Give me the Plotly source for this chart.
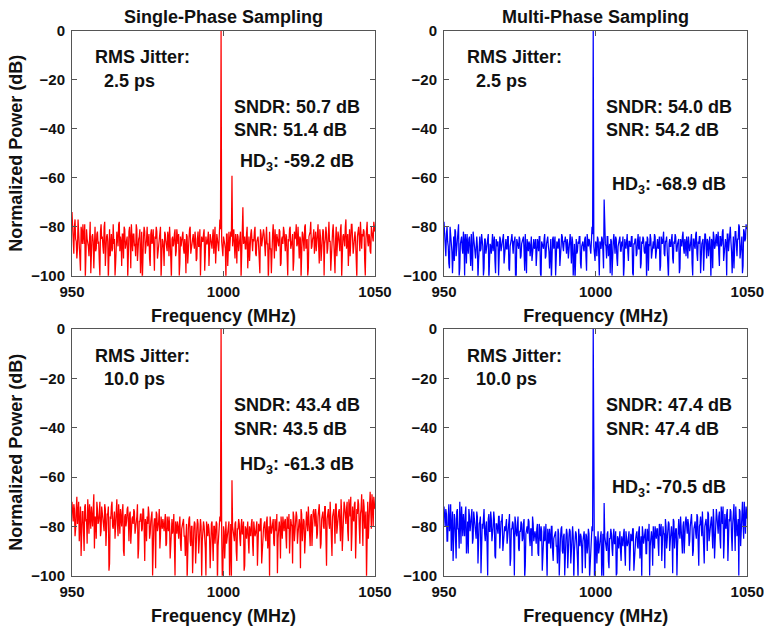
import numpy as np
import plotly.graph_objects as go

W, H = 764, 628

# Spectra are sampled every 0.2 MHz from 950 to 1050 MHz.
# The "_a" lists hold bins 950.0, 950.4, ... 1050.0; the "_b" lists the bins in between.
f_start, f_step = 950.0, 0.2

carrier_mhz = 999.2
hd3_mhz = 1002.8
carrier_db = 0.0

panel_titles = ["Single-Phase Sampling", "Multi-Phase Sampling"]
jitter_ps = ["2.5", "2.5", "10.0", "10.0"]
sndr_db = [50.7, 54.0, 43.4, 47.4]
snr_db = [51.4, 54.2, 43.5, 47.4]
hd3_db = [-59.2, -68.9, -61.3, -70.5]
line_colors = ["#ff0000", "#0000ff", "#ff0000", "#0000ff"]

# Normalized power (dB), single-phase sampling, 2.5 ps RMS jitter
spec_single_2p5_a = [
    -74, -88, -80, -85, -93, -77, -84, -98, -82, -79, -87, -101, -81, -86, -92, -78, -85, -83, -97, -80, -89, -82, -86, -100, -79,
    -84, -91, -78, -87, -83, -102, -81, -86, -90, -79, -85, -95, -82, -88, -78, -84, -96, -83, -80, -89, -86, -101, -82, -85, -79,
    -90, -83, -87, -79, -94, -85, -81, -88, -103, -84, -82, -89, -80, -86, -93, -83, -87, -81, -98, -85, -82, -90, -84, -80, -88,
    -86, -96, -83, -88, -82, -92, -85, -101, -84, -87, -81, -90, -86, -83, -95, -88, -82, -89, -85, -99, -84, -87, -81, -91, -86,
    -83, -89, -85, -93, -82, -88, -100, -84, -86, -81, -90, -87, -85, -96, -83, -88, -84, -91, -80, -86, -85, -90, -77, -80, -88,
    -84, -87, -101, -83, -86, -90, -82, -85, -85, -88, -83, -95, -84, -87, -82, -91, -72, -85, -89, -83, -97, -84, -86, -81, -90,
    -86, -80, -92, -84, -88, -99, -83, -86, -81, -90, -85, -87, -102, -82, -89, -84, -79, -93, -86, -83, -88, -81, -96, -85, -87,
    -82, -90, -84, -100, -86, -80, -88, -83, -94, -85, -79, -87, -91, -84, -101, -82, -86, -80, -89, -85, -97, -83, -78, -88, -84,
    -91, -82, -86, -79, -95, -84, -87, -81, -100, -85, -83, -89, -78, -86, -92, -82, -85, -99, -80, -87, -84, -90, -79, -86, -83,
    -88, -77, -85, -96, -81, -84, -79, -91, -83, -86, -101, -80, -85, -78, -89, -84, -82, -100, -79, -86, -83, -90, -80, -85, -78,
    -82,
]
spec_single_2p5_b = [
    -82, -91, -77, -86, -89, -83, -95, -80, -87, -84, -79, -92, -85, -88, -81, -99, -84, -86, -80, -90, -83, -87, -94, -82, -85,
    -88, -80, -96, -84, -86, -81, -92, -83, -89, -87, -100, -82, -85, -79, -90, -86, -83, -93, -81, -87, -84, -89, -80, -97, -85,
    -83, -88, -92, -81, -86, -84, -99, -82, -87, -80, -91, -85, -88, -83, -96, -81, -86, -89, -84, -80, -93, -87, -82, -101, -85,
    -89, -82, -86, -90, -84, -80, -97, -85, -88, -83, -92, -81, -87, -100, -84, -86, -82, -91, -88, -83, -95, -85, -80, -89, -84,
    -87, -82, -94, -85, -88, -81, -90, -86, -83, -98, -84, -87, -82, -92, -85, -89, -81, -86, -95, -83, -88, -84, -81, -86, -92,
    -85, -89, -83, -96, -82, -87, -84, -88, -81, -93, -86, -83, -90, -85, -101, -82, -87, -84, -89, -80, -86, -94, -83, -88, -85,
    -82, -91, -86, -84, -97, -81, -88, -85, -83, -92, -80, -87, -84, -89, -99, -83, -86, -81, -90, -85, -88, -82, -95, -84, -80,
    -87, -83, -92, -85, -81, -89, -86, -98, -82, -84, -88, -80, -93, -85, -87, -83, -90, -79, -86, -100, -84, -82, -89, -85, -81,
    -86, -90, -83, -88, -81, -94, -85, -82, -87, -80, -91, -84, -86, -98, -83, -79, -88, -85, -92, -82, -86, -81, -101, -84, -87,
    -80, -89, -83, -86, -92, -79, -85, -88, -82, -97, -84, -80, -90, -86, -83, -81, -94, -85, -78, -88, -84, -91, -82, -86, -80,
]

# Normalized power (dB), multi-phase sampling, 2.5 ps RMS jitter
spec_multi_2p5_a = [
    -78, -90, -83, -86, -95, -80, -88, -99, -84, -81, -92, -87, -79, -97, -85, -89, -82, -100, -86, -83, -91, -84, -96, -88, -82,
    -87, -93, -84, -101, -86, -90, -83, -88, -97, -85, -89, -84, -102, -87, -91, -83, -86, -94, -85, -88, -100, -84, -90, -86, -83,
    -92, -85, -89, -84, -98, -87, -83, -91, -86, -103, -85, -88, -84, -93, -87, -85, -90, -83, -99, -88, -86, -92, -84, -89, -85,
    -88, -96, -85, -90, -84, -101, -87, -89, -83, -92, -86, -88, -97, -85, -90, -84, -87, -100, -86, -89, -85, -93, -83, -88, -86,
    -84, -91, -87, -89, -83, -95, -86, -88, -102, -85, -90, -87, -84, -97, -86, -89, -85, -92, -83, -88, -86, -91, -80, -82, -90,
    -86, -92, -85, -100, -88, -84, -90, -87, -87, -93, -84, -88, -99, -86, -89, -83, -91, -85, -96, -87, -84, -90, -88, -101, -85,
    -89, -83, -94, -86, -88, -84, -100, -87, -85, -91, -83, -89, -97, -86, -84, -90, -88, -102, -85, -87, -83, -93, -86, -89, -84,
    -90, -85, -88, -98, -84, -87, -82, -92, -86, -89, -101, -85, -88, -83, -95, -87, -84, -90, -86, -99, -85, -88, -82, -91, -87,
    -84, -93, -86, -88, -83, -100, -85, -89, -82, -94, -87, -84, -90, -86, -98, -83, -88, -85, -92, -84, -101, -86, -82, -89, -85,
    -88, -82, -96, -84, -87, -81, -91, -85, -100, -83, -86, -80, -90, -84, -97, -82, -88, -85, -79, -93, -84, -99, -81, -86, -79,
    -80,
]
spec_multi_2p5_b = [
    -84, -92, -80, -88, -97, -83, -90, -86, -94, -82, -89, -85, -100, -87, -84, -91, -86, -83, -95, -88, -85, -90, -83, -98, -86,
    -90, -85, -88, -94, -84, -89, -86, -100, -85, -91, -87, -83, -96, -88, -85, -90, -84, -99, -87, -86, -92, -85, -88, -84, -95,
    -86, -89, -84, -97, -88, -85, -91, -86, -84, -101, -87, -89, -85, -92, -86, -84, -98, -88, -85, -90, -87, -84, -94, -86, -89,
    -85, -91, -87, -84, -99, -86, -88, -85, -93, -87, -84, -90, -86, -102, -85, -89, -84, -92, -87, -85, -96, -88, -84, -90, -86,
    -89, -85, -93, -86, -88, -84, -100, -87, -85, -91, -86, -84, -95, -88, -86, -90, -84, -98, -87, -85, -89, -86, -83, -88, -94,
    -87, -84, -91, -86, -89, -85, -97, -86, -88, -84, -92, -87, -85, -100, -86, -89, -84, -93, -88, -85, -90, -86, -84, -96, -87,
    -85, -90, -86, -88, -84, -99, -87, -85, -92, -86, -89, -84, -95, -87, -85, -91, -86, -84, -98, -88, -85, -90, -86, -83, -93,
    -86, -89, -84, -96, -87, -85, -91, -86, -84, -100, -87, -88, -85, -93, -86, -83, -90, -87, -85, -97, -86, -84, -89, -85, -92,
    -87, -84, -90, -86, -95, -85, -88, -83, -91, -86, -84, -99, -87, -85, -89, -83, -93, -86, -84, -90, -85, -97, -84, -88, -83,
    -86, -91, -84, -88, -82, -94, -85, -87, -83, -90, -81, -86, -99, -84, -87, -82, -92, -85, -80, -88, -84, -96, -82, -85, -81,
]

# Normalized power (dB), single-phase sampling, 10.0 ps RMS jitter
spec_single_10_a = [
    -70, -78, -73, -81, -68, -76, -86, -72, -79, -74, -90, -71, -77, -69, -83, -75, -72, -80, -67, -76, -85, -73, -78, -70, -82,
    -74, -79, -71, -88, -75, -72, -95, -77, -70, -81, -74, -78, -69, -84, -76, -73, -80, -71, -92, -75, -78, -72, -86, -74, -79,
    -76, -73, -83, -77, -71, -89, -78, -75, -81, -73, -94, -79, -76, -72, -85, -78, -74, -82, -77, -97, -75, -80, -73, -84, -79,
    -77, -82, -75, -87, -80, -76, -93, -79, -83, -75, -100, -81, -78, -85, -76, -90, -80, -77, -84, -79, -102, -81, -76, -88, -80,
    -83, -78, -95, -81, -79, -86, -77, -101, -82, -80, -89, -78, -84, -81, -97, -79, -83, -80, -87, -78, -103, -82, -76, -80, -101,
    -80, -93, -78, -84, -81, -100, -79, -83, -83, -86, -78, -94, -81, -79, -88, -77, -83, -98, -80, -85, -78, -91, -82, -79, -87,
    -78, -84, -80, -96, -79, -82, -77, -90, -81, -78, -86, -76, -83, -101, -79, -81, -77, -88, -80, -75, -85, -78, -93, -79, -76,
    -82, -77, -89, -78, -75, -84, -79, -95, -76, -81, -74, -87, -78, -80, -73, -86, -77, -91, -75, -79, -72, -83, -76, -88, -74,
    -78, -73, -85, -76, -71, -89, -77, -74, -81, -72, -96, -75, -79, -70, -84, -76, -73, -87, -71, -78, -74, -82, -69, -90, -75,
    -72, -79, -70, -86, -74, -68, -83, -76, -71, -93, -73, -69, -80, -75, -67, -88, -72, -77, -101, -70, -74, -66, -81, -71, -68,
    -73,
]
spec_single_10_b = [
    -75, -71, -84, -73, -79, -70, -77, -92, -74, -80, -72, -78, -87, -75, -71, -81, -76, -73, -89, -77, -70, -79, -75, -84, -72,
    -77, -82, -73, -79, -75, -98, -76, -72, -80, -77, -85, -74, -79, -71, -83, -77, -74, -90, -76, -80, -73, -78, -75, -87, -77,
    -79, -74, -81, -76, -93, -78, -75, -82, -73, -80, -77, -86, -79, -75, -83, -76, -100, -80, -77, -74, -82, -78, -89, -76, -81,
    -80, -78, -88, -76, -82, -79, -85, -77, -81, -96, -78, -83, -80, -76, -87, -81, -78, -84, -92, -79, -82, -77, -86, -80, -99,
    -81, -79, -84, -77, -91, -82, -80, -86, -78, -83, -100, -81, -79, -85, -82, -78, -94, -80, -84, -79, -88, -81, -78, -83, -98,
    -82, -79, -87, -81, -78, -84, -102, -80, -83, -79, -90, -81, -77, -85, -80, -83, -78, -96, -81, -79, -86, -80, -84, -77, -92,
    -80, -83, -78, -86, -81, -77, -95, -82, -79, -84, -78, -89, -80, -76, -83, -79, -87, -77, -82, -99, -78, -81, -76, -85, -80,
    -78, -84, -76, -81, -91, -77, -80, -74, -86, -79, -76, -83, -77, -97, -75, -80, -78, -85, -74, -82, -77, -88, -75, -79, -73,
    -80, -76, -83, -74, -78, -87, -75, -80, -72, -84, -77, -73, -81, -76, -92, -74, -78, -71, -83, -76, -73, -86, -75, -79, -70,
    -77, -73, -82, -69, -76, -90, -72, -78, -70, -84, -75, -71, -87, -73, -78, -69, -81, -74, -70, -85, -72, -76, -67, -80, -71,
]

# Normalized power (dB), multi-phase sampling, 10.0 ps RMS jitter
spec_multi_10_a = [
    -72, -80, -75, -86, -71, -79, -90, -74, -82, -77, -93, -73, -81, -70, -87, -78, -75, -84, -72, -80, -91, -76, -79, -73, -85,
    -77, -83, -74, -95, -79, -76, -88, -81, -73, -86, -78, -100, -75, -82, -77, -84, -74, -92, -79, -81, -76, -89, -78, -75, -85,
    -80, -77, -87, -82, -75, -93, -81, -79, -100, -78, -84, -76, -90, -82, -79, -85, -77, -96, -80, -83, -78, -88, -81, -76, -86,
    -82, -87, -79, -92, -84, -80, -98, -83, -86, -79, -101, -85, -81, -89, -80, -94, -84, -82, -88, -81, -100, -85, -80, -91, -83,
    -86, -81, -97, -84, -82, -90, -80, -102, -85, -83, -93, -81, -88, -84, -99, -82, -87, -83, -91, -81, -101, -85, -80, -84, -100,
    -84, -95, -82, -88, -85, -101, -83, -86, -86, -90, -82, -97, -85, -83, -92, -81, -87, -100, -84, -89, -82, -94, -86, -83, -90,
    -82, -88, -84, -98, -83, -86, -81, -93, -85, -82, -89, -80, -87, -101, -83, -85, -81, -91, -84, -79, -88, -82, -96, -83, -80,
    -85, -81, -92, -82, -79, -87, -83, -97, -80, -84, -78, -90, -82, -84, -77, -89, -81, -100, -79, -83, -76, -86, -80, -91, -78,
    -82, -77, -88, -80, -75, -92, -81, -78, -85, -76, -96, -79, -83, -74, -87, -80, -77, -90, -75, -82, -78, -86, -73, -93, -79,
    -76, -83, -74, -89, -78, -72, -86, -80, -75, -94, -77, -73, -84, -79, -71, -90, -76, -81, -100, -74, -78, -70, -85, -75, -72,
    -77,
]
spec_multi_10_b = [
    -78, -73, -86, -76, -82, -71, -80, -94, -75, -83, -74, -81, -89, -77, -72, -84, -79, -75, -91, -78, -73, -82, -77, -87, -74,
    -80, -85, -76, -82, -78, -99, -79, -75, -83, -80, -88, -77, -82, -74, -86, -80, -77, -93, -79, -83, -76, -81, -78, -90, -80,
    -82, -77, -84, -79, -96, -81, -78, -85, -76, -83, -80, -89, -82, -78, -86, -79, -101, -83, -80, -77, -85, -81, -92, -79, -84,
    -84, -81, -91, -79, -86, -82, -88, -80, -85, -99, -81, -87, -84, -80, -90, -85, -82, -88, -95, -83, -86, -81, -90, -84, -100,
    -85, -83, -88, -81, -95, -86, -84, -90, -82, -87, -101, -85, -83, -89, -86, -82, -97, -84, -88, -83, -92, -85, -82, -87, -100,
    -86, -83, -91, -85, -82, -88, -102, -84, -87, -83, -94, -85, -81, -89, -84, -87, -82, -99, -85, -83, -90, -84, -88, -81, -96,
    -84, -87, -82, -90, -85, -81, -98, -86, -83, -88, -82, -93, -84, -80, -87, -83, -91, -81, -86, -100, -82, -85, -80, -89, -84,
    -81, -87, -79, -84, -94, -80, -83, -77, -89, -82, -79, -86, -80, -99, -78, -83, -81, -88, -77, -85, -80, -91, -78, -82, -76,
    -83, -79, -86, -77, -81, -90, -78, -83, -75, -87, -80, -76, -84, -79, -95, -77, -81, -74, -86, -79, -76, -89, -78, -82, -73,
    -80, -76, -85, -72, -79, -93, -75, -81, -73, -87, -78, -74, -90, -76, -81, -72, -84, -77, -73, -88, -75, -79, -70, -83, -74,
]

spectra = [
    (spec_single_2p5_a, spec_single_2p5_b),
    (spec_multi_2p5_a, spec_multi_2p5_b),
    (spec_single_10_a, spec_single_10_b),
    (spec_multi_10_a, spec_multi_10_b),
]

FONT = "Liberation Sans, Arial, Helvetica, sans-serif"
TEXT = "#111111"
AXIS = "#555555"

# Plot-area boxes in pixels: (left, right, top, bottom)
boxes = [(72, 375, 31, 275.7), (444, 747.3, 31, 275.7),
         (72, 375, 329, 575.7), (444, 747.3, 329, 575.7)]


def px(x, y):
    return x / W, 1 - y / H


def interleave(a, b):
    out = []
    for i, v in enumerate(a):
        out.append(v)
        if i < len(b):
            out.append(b[i])
    return np.array(out, dtype=float)


fig = go.Figure()
annotations = []

for k, (l, r, t, b) in enumerate(boxes):
    n = k + 1
    xa = "x" if n == 1 else f"x{n}"
    ya = "y" if n == 1 else f"y{n}"
    y = interleave(*spectra[k])
    freq = f_start + f_step * np.arange(len(y))
    y[int(round((carrier_mhz - f_start) / f_step))] = carrier_db
    y[int(round((hd3_mhz - f_start) / f_step))] = hd3_db[k]
    fig.add_trace(go.Scatter(x=freq, y=y, mode="lines", xaxis=xa, yaxis=ya,
                             line=dict(color=line_colors[k], width=1.25),
                             showlegend=False, hoverinfo="skip"))

    x0, y0 = px(l, b)
    x1, y1 = px(r, t)
    common = dict(showline=True, linecolor=AXIS, linewidth=1, mirror="ticks",
                  ticks="inside", ticklen=5, tickcolor=AXIS, showgrid=False,
                  zeroline=False, automargin=False,
                  tickfont=dict(family=FONT, size=15, color=TEXT, weight="bold"))
    fig.layout[f"xaxis{'' if n == 1 else n}"] = dict(
        common, domain=[x0, x1], anchor=ya, range=[950, 1050],
        tickvals=[950, 1000, 1050], ticklabelstandoff=2,
        title=dict(text="Frequency (MHz)", standoff=10,
                   font=dict(family=FONT, size=18, color=TEXT, weight="bold")))
    fig.layout[f"yaxis{'' if n == 1 else n}"] = dict(
        common, domain=[y0, y1], anchor=xa, range=[-100, 0],
        tickvals=[-100, -80, -60, -40, -20, 0], ticklabelstandoff=3,
        title=dict(text="Normalized Power (dB)" if k % 2 == 0 else "", standoff=3,
                   font=dict(family=FONT, size=18, color=TEXT, weight="bold")))

    # Panel text: jitter and measured metrics
    off = 0 if k < 2 else 298.5
    hd3_y = [162, 185, 465, 488][k]
    items = [
        (l + 21, 57.5 + off, "RMS Jitter:"),
        (l + 30, 80.5 + off, f"{jitter_ps[k]} ps"),
        (l + 160, 106.5 + off, f"SNDR: {sndr_db[k]:.1f} dB"),
        (l + 160, 130 + off, f"SNR: {snr_db[k]:.1f} dB"),
        (l + 166, hd3_y, f"HD<sub>3</sub>: {hd3_db[k]:.1f} dB"),
    ]
    for (ax_, ay_, txt) in items:
        xx, yy = px(ax_, ay_)
        annotations.append(dict(x=xx, y=yy, xref="paper", yref="paper", text=txt,
                                showarrow=False, xanchor="left", yanchor="middle",
                                font=dict(family=FONT, size=18, color=TEXT, weight="bold")))

    if k < 2:
        xx, yy = px((l + r) / 2, 17)
        annotations.append(dict(x=xx, y=yy, xref="paper", yref="paper", text=panel_titles[k],
                                showarrow=False, xanchor="center", yanchor="middle",
                                font=dict(family=FONT, size=18, color=TEXT, weight="bold")))

fig.update_layout(width=W, height=H, margin=dict(l=0, r=0, t=0, b=0),
                  paper_bgcolor="white", plot_bgcolor="white",
                  annotations=annotations)

fig.write_html("out.html")
